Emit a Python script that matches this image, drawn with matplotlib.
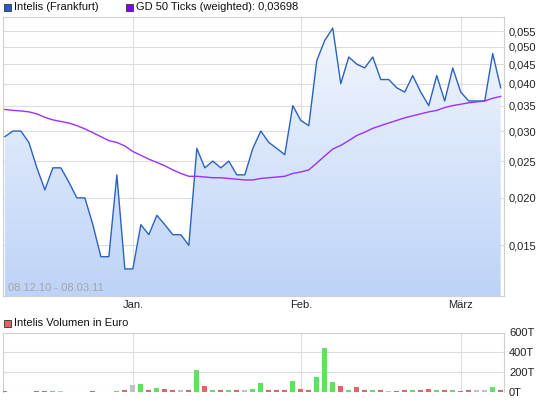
import numpy as np
import matplotlib.pyplot as plt
from matplotlib.patches import Rectangle
from matplotlib.colors import LinearSegmentedColormap
from matplotlib.ticker import NullLocator

plt.rcParams['font.family'] = ['Liberation Sans', 'DejaVu Sans']

# Intelis (Frankfurt), 08.12.10 - 08.03.11, ein Wert pro Handelstag
kurs = [0.029, 0.030, 0.030, 0.028, 0.024, 0.021, 0.024, 0.024, 0.022, 0.020,
        0.020, 0.017, 0.014, 0.014, 0.023, 0.013, 0.013, 0.017, 0.016, 0.018,
        0.017, 0.016, 0.016, 0.015, 0.027, 0.024, 0.025, 0.024, 0.025, 0.023,
        0.023, 0.027, 0.030, 0.028, 0.027, 0.026, 0.035, 0.032, 0.031, 0.046,
        0.052, 0.056, 0.040, 0.047, 0.045, 0.044, 0.047, 0.041, 0.041, 0.039,
        0.038, 0.042, 0.038, 0.035, 0.042, 0.036, 0.044, 0.038, 0.036, 0.036,
        0.036, 0.048, 0.039]
vorkurs = 0.030

# GD 50 Ticks (weighted)
gd50 = [0.0342, 0.0340, 0.0339, 0.0337, 0.0333, 0.0326, 0.0321, 0.0318, 0.0315, 0.0310,
        0.0304, 0.0297, 0.0290, 0.0283, 0.0280, 0.0274, 0.0265, 0.0259, 0.0253, 0.0248,
        0.0243, 0.0237, 0.0232, 0.0228, 0.0228, 0.0227, 0.0226, 0.0226, 0.0225, 0.0224,
        0.0223, 0.0223, 0.0225, 0.0226, 0.0227, 0.0228, 0.0232, 0.0234, 0.0237, 0.0247,
        0.0258, 0.0269, 0.0275, 0.0283, 0.0292, 0.0298, 0.0305, 0.0310, 0.0315, 0.0320,
        0.0325, 0.0329, 0.0333, 0.0337, 0.0340, 0.0346, 0.0350, 0.0353, 0.0356, 0.0358,
        0.0360, 0.0366, 0.0370]

# Volumen in Tausend Euro
volumen = [5, 0, 0, 0, 5, 5, 5, 5, 0, 0,
           0, 5, 0, 0, 5, 20, 70, 80, 12, 40,
           30, 12, 12, 12, 215, 60, 12, 12, 12, 12,
           12, 30, 90, 20, 12, 12, 110, 30, 12, 150,
           440, 100, 60, 12, 50, 20, 20, 12, 5, 5,
           12, 12, 12, 30, 12, 12, 12, 5, 12, 12,
           20, 50, 20]

monate = ['Jan.', 'Feb.', 'März']
monat_idx = [16, 37, 57]
kurs_ticks = [0.015, 0.020, 0.025, 0.030, 0.035, 0.040, 0.045, 0.050, 0.055]
vol_ticks = [0, 200, 400, 600]
zeitraum = '08.12.10 - 08.03.11'
gd_letzter = '0,03698'

W, H = 545, 401
fig = plt.figure(figsize=(W / 100, H / 100), dpi=100)

def px_box(x0, y0, x1, y1):
    return [x0 / W, 1 - y1 / H, (x1 - x0) / W, (y1 - y0) / H]

gitter = '#dcdcdc'
rahmen = '#cfcfcf'
x = np.arange(len(kurs))

# Kurschart
ax = fig.add_axes(px_box(2.5, 16.5, 503.5, 296))
ax.set_yscale('log')
flaeche = ax.fill_between(x, kurs, 0.005, color='none', lw=0)
verlauf = LinearSegmentedColormap.from_list('v', ['#bdd3f7', '#f4f8fe'])
bild = ax.imshow(np.linspace(0, 1, 256).reshape(-1, 1), extent=[0, 1, 0, 1],
                 transform=ax.transAxes, aspect='auto', cmap=verlauf,
                 origin='lower', zorder=1)
bild.set_clip_path(flaeche.get_paths()[0], ax.transData)
ax.plot(x, kurs, color='#2b62c0', lw=1.0, zorder=3)
ax.plot(x, gd50, color='#9b30ff', lw=1.0, zorder=4)
ax.set_xlim(-0.3, 62.35)
ax.set_ylim(0.01103, 0.0601)

ax.yaxis.tick_right()
ax.set_yticks(kurs_ticks)
ax.set_yticklabels([f'{v:.3f}'.replace('.', ',') for v in kurs_ticks])
ax.yaxis.set_minor_locator(NullLocator())
ax.set_xticks(monat_idx)
ax.set_xticklabels(monate)
ax.tick_params(length=0, labelsize=8, colors='#222222')
ax.tick_params(axis='y', pad=4)
ax.tick_params(axis='x', pad=3)
ax.grid(True, color=gitter, lw=0.8, zorder=0)
ax.set_axisbelow(True)
for s in ax.spines.values():
    s.set_color(rahmen)
    s.set_linewidth(0.8)
ax.text(0.01, 0.01, zeitraum, transform=ax.transAxes, color='#a6a6a6',
        fontsize=8, va='bottom', ha='left', zorder=5)

# Volumen
alt = [vorkurs] + kurs[:-1]
farben = ['#66dd66' if k > a else '#e06666' if k < a else '#c0c0c0'
          for k, a in zip(kurs, alt)]
axv = fig.add_axes(px_box(2.5, 332.5, 503.5, 391.5))
axv.bar(x, volumen, width=0.62, color=farben, zorder=3)
axv.set_xlim(-0.3, 62.35)
axv.set_ylim(0, 600)
axv.yaxis.tick_right()
axv.set_yticks(vol_ticks)
axv.set_yticklabels([f'{v}T' for v in vol_ticks])
axv.set_xticks(monat_idx)
axv.set_xticklabels([])
axv.tick_params(length=0, labelsize=8, colors='#222222', pad=4)
axv.grid(True, color=gitter, lw=0.8, zorder=0)
axv.set_axisbelow(True)
for s in axv.spines.values():
    s.set_color(rahmen)
    s.set_linewidth(0.8)
axv.spines['bottom'].set_visible(False)

# Legenden
def legende(x0, yc, farbe, text):
    fig.add_artist(Rectangle((x0 / W, 1 - (yc + 3.5) / H), 7 / W, 7 / H,
                             transform=fig.transFigure, facecolor=farbe,
                             edgecolor='#333333', lw=0.6))
    fig.text((x0 + 11) / W, 1 - yc / H, text, va='center', ha='left',
             fontsize=8, color='#111111')

legende(3.5, 7.5, '#2060c8', 'Intelis (Frankfurt)')
legende(125.5, 7.5, '#8000ff', 'GD 50 Ticks (weighted): ' + gd_letzter)
legende(3.5, 323.5, '#e06666', 'Intelis Volumen in Euro')

fig.savefig('out.png', dpi=100)
